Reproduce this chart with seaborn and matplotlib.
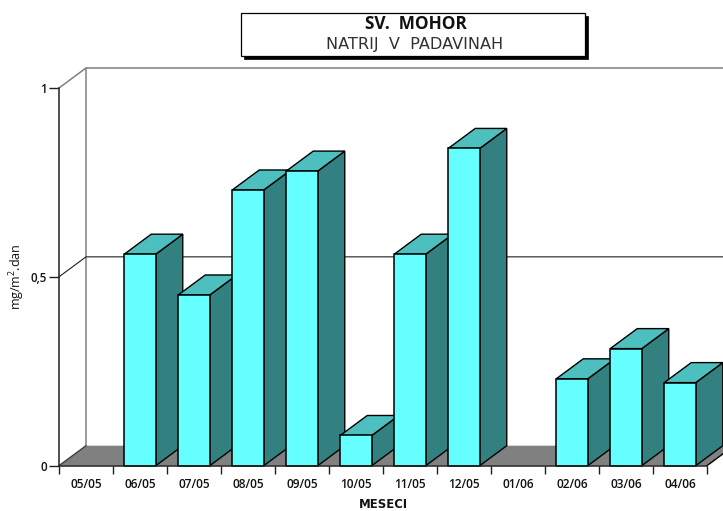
import numpy as np
import pandas as pd
import seaborn as sns
import matplotlib
matplotlib.use("Agg")
import matplotlib.pyplot as plt
from matplotlib.patches import Polygon, Rectangle
from matplotlib.ticker import FixedLocator, FixedFormatter

months = ["05/05", "06/05", "07/05", "08/05", "09/05", "10/05",
          "11/05", "12/05", "01/06", "02/06", "03/06", "04/06"]
values = [np.nan, 0.56, 0.452, 0.73, 0.78, 0.08, 0.56, 0.84, np.nan, 0.23, 0.31, 0.22]
y_ticks = [0, 0.5, 1]
y_labels = ["0", "0,5", "1"]
title = "SV.  MOHOR"
subtitle = "NATRIJ  V  PADAVINAH"
x_title = "MESECI"
y_title = "mg/m$^2$.dan"

W, H = 723, 511
FRONT, TOP, SIDE, FLOOR, WALL = "#66FFFF", "#4DBFBF", "#338080", "#808080", "#808080"
FONT = "Open Sans"

sns.set_style("white")
plt.rcParams["font.family"] = [FONT, "DejaVu Sans"]
plt.rcParams["mathtext.fontset"] = "custom"
plt.rcParams["mathtext.rm"] = FONT
plt.rcParams["mathtext.default"] = "rm"

fig = plt.figure(figsize=(W / 100, H / 100), dpi=100, facecolor="white")
ax = fig.add_axes([59 / W, (H - 465.7) / H, 648 / W, 377.7 / H])
ax.patch.set_alpha(0)

df = pd.DataFrame({"month": months, "value": values})
sns.barplot(data=df, x="month", y="value", order=months, color=FRONT, saturation=1,
            width=31.5 / 54, edgecolor="black", linewidth=1.1, ax=ax, zorder=5)
bars = list(ax.patches)

ax.set_xlim(-0.5, 11.5)
ax.set_ylim(0, 1)
dx = 27 / 54          # depth, category units
dy = 20 / 377.7       # depth, value units
x0, x1 = -0.5, 11.5

# floor and back wall
ax.add_patch(Polygon([(x0, 0), (x1, 0), (x1 + dx, dy), (x0 + dx, dy)], closed=True,
                     facecolor=FLOOR, edgecolor="none", clip_on=False, zorder=1))
ax.plot([x1, x1 + dx], [0, dy], color="black", lw=1, clip_on=False, zorder=1.5)
ax.plot([x0, x0 + dx], [0, dy], color="#404040", lw=1, clip_on=False, zorder=1.5)
ax.plot([x0 + dx, x0 + dx], [dy, 1 + dy], color=WALL, lw=1.1, clip_on=False, zorder=1.2)
ax.plot([x0, x0 + dx, x1 + dx], [1, 1 + dy, 1 + dy], color=WALL, lw=1.1, clip_on=False, zorder=1.2)
ax.plot([x0, x0 + dx, x1 + dx], [0.5, 0.5 + dy, 0.5 + dy], color="#202020", lw=0.8,
        clip_on=False, zorder=1.2)

# depth faces of every bar, stacked left to right
for p in bars:
    l, w, h = p.get_x(), p.get_width(), p.get_height()
    if not np.isfinite(h):
        continue
    r = l + w
    z = 2 + round(l + w / 2) * 0.1
    p.set_zorder(z + 0.02)
    p.set_clip_on(False)
    ax.add_patch(Polygon([(r, 0), (r + dx, dy), (r + dx, h + dy), (r, h)], closed=True,
                         facecolor=SIDE, edgecolor="black", lw=1.0, clip_on=False, zorder=z))
    ax.add_patch(Polygon([(l, h), (l + dx, h + dy), (r + dx, h + dy), (r, h)], closed=True,
                         facecolor=TOP, edgecolor="black", lw=1.0, clip_on=False, zorder=z))

# axes and ticks
sns.despine(ax=ax, top=True, right=True)
for s in ("left", "bottom"):
    ax.spines[s].set_color("#202020")
    ax.spines[s].set_linewidth(1.1)
    ax.spines[s].set_zorder(4)
ax.set_yticks(y_ticks, y_labels)
ax.tick_params(axis="y", length=7, width=1, color="#202020", left=True, pad=1.5,
               labelsize=8.4, labelcolor="#111111")
for t in ax.get_yticklabels():
    t.set_fontweight("semibold")
ax.xaxis.set_major_locator(FixedLocator(np.arange(len(months))))
ax.xaxis.set_major_formatter(FixedFormatter(months))
ax.xaxis.set_minor_locator(FixedLocator(np.arange(len(months) + 1) - 0.5))
ax.tick_params(axis="x", which="major", length=0, pad=8.5, labelsize=8.6, labelcolor="#111111")
for t in ax.get_xticklabels():
    t.set_fontweight("semibold")
ax.tick_params(axis="x", which="minor", length=6, width=1, color="#202020", bottom=True)
ax.set_xlabel("")
ax.set_ylabel("")

fig.text(383 / W, 1 - 504 / H, x_title, ha="center", va="center", fontsize=8.4,
         fontweight="bold", family="DejaVu Sans", color="#111111")
fig.text(17 / W, 1 - 277 / H, y_title, rotation=90, ha="center", va="center",
         fontsize=9.0, fontweight="normal", color="#111111")

# title box
ft = fig.transFigure
fig.add_artist(Rectangle((244 / W, 1 - 59 / H), 344 / W, 43 / H, transform=ft,
                         facecolor="black", edgecolor="black", lw=0.5))
fig.add_artist(Rectangle((241.5 / W, 1 - 56 / H), 343.5 / W, 43 / H, transform=ft,
                         facecolor="white", edgecolor="black", lw=0.9))
fig.text(416 / W, 1 - 24 / H, title, ha="center", va="center", fontsize=12.4,
         fontweight="bold", color="#111111")
fig.text(414.5 / W, 1 - 45 / H, subtitle, ha="center", va="center", fontsize=11.6,
         family="DejaVu Sans", color="#303030")

fig.savefig("out.png", dpi=100, facecolor="white")
